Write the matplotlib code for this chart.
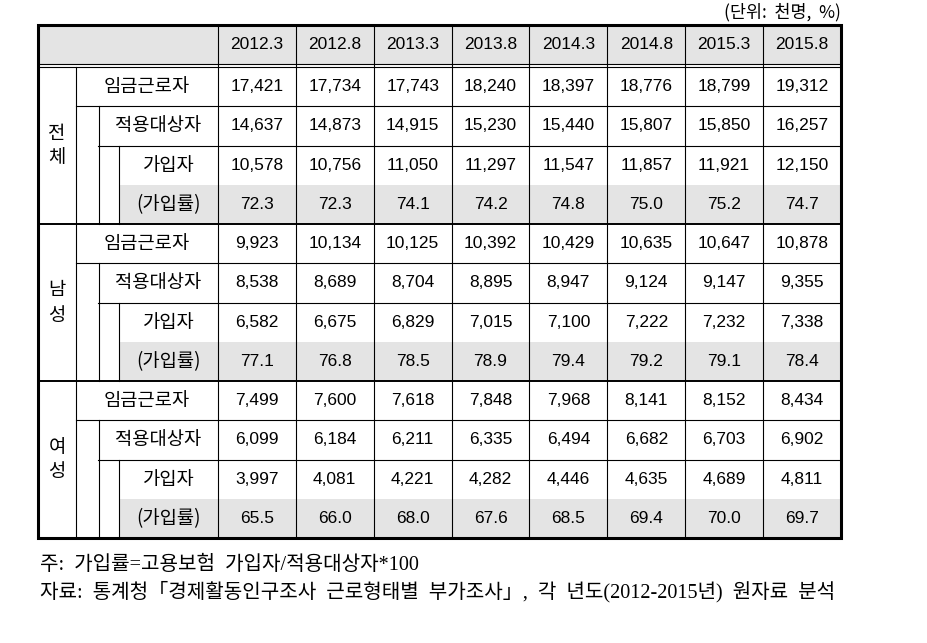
import matplotlib.pyplot as plt
from matplotlib.patches import Rectangle

plt.rcParams['font.family'] = ['Noto Sans CJK KR', 'DejaVu Sans']

years = ['2012.3', '2012.8', '2013.3', '2013.8', '2014.3', '2014.8', '2015.3', '2015.8']
groups = ['전체', '남성', '여성']
row_labels = ['임금근로자', '적용대상자', '가입자', '(가입률)']

# 전체
total_wage = [17421, 17734, 17743, 18240, 18397, 18776, 18799, 19312]
total_cover = [14637, 14873, 14915, 15230, 15440, 15807, 15850, 16257]
total_join = [10578, 10756, 11050, 11297, 11547, 11857, 11921, 12150]
total_rate = [72.3, 72.3, 74.1, 74.2, 74.8, 75.0, 75.2, 74.7]
# 남성
male_wage = [9923, 10134, 10125, 10392, 10429, 10635, 10647, 10878]
male_cover = [8538, 8689, 8704, 8895, 8947, 9124, 9147, 9355]
male_join = [6582, 6675, 6829, 7015, 7100, 7222, 7232, 7338]
male_rate = [77.1, 76.8, 78.5, 78.9, 79.4, 79.2, 79.1, 78.4]
# 여성
female_wage = [7499, 7600, 7618, 7848, 7968, 8141, 8152, 8434]
female_cover = [6099, 6184, 6211, 6335, 6494, 6682, 6703, 6902]
female_join = [3997, 4081, 4221, 4282, 4446, 4635, 4689, 4811]
female_rate = [65.5, 66.0, 68.0, 67.6, 68.5, 69.4, 70.0, 69.7]

unit_text = '(단위:  천명,  %)'
note_text = '주:  가입률=고용보험  가입자/적용대상자*100'
source_text = '자료:  통계청「경제활동인구조사  근로형태별  부가조사」,  각  년도(2012-2015년)  원자료  분석'

table = [
    [total_wage, total_cover, total_join, total_rate],
    [male_wage, male_cover, male_join, male_rate],
    [female_wage, female_cover, female_join, female_rate],
]

fig = plt.figure(figsize=(9.28, 6.43), dpi=100)
ax = fig.add_axes([0, 0, 1, 1])
ax.set_xlim(0, 928)
ax.set_ylim(643, 0)
ax.axis('off')

# layout in pixels
L, R, T, B = 38, 841, 25, 538
c1, c2, c3, c4 = 76, 99, 119, 218
head_bot = 64
data_top = 67
cw = (R - c4) / len(years)
rh = (B - data_top) / 12
gray = '#e4e4e4'
thin = 0.8
num_font = 'Liberation Sans'

# shading
ax.add_patch(Rectangle((L, T), R - L, head_bot - T, color=gray, lw=0))
for g in range(len(groups)):
    y0 = data_top + g * 4 * rh
    ax.add_patch(Rectangle((c3, y0 + 3 * rh), R - c3, rh, color=gray, lw=0))

# header
ax.plot([L, R], [head_bot, head_bot], color='k', lw=thin)
ax.plot([L, R], [data_top, data_top], color='k', lw=thin)
for i, yr in enumerate(years):
    ax.text(c4 + (i + 0.5) * cw, (T + head_bot) / 2, yr, ha='center', va='center',
            fontsize=12.5, family=num_font)

# column lines
for i in range(len(years)):
    x = c4 + i * cw
    ax.plot([x, x], [T, B], color='k', lw=thin)
ax.plot([c1, c1], [data_top, B], color='k', lw=thin)

for g, name in enumerate(groups):
    y0 = data_top + g * 4 * rh
    if g > 0:
        ax.plot([L, R], [y0, y0], color='k', lw=1.4)
    # inner structure
    ax.plot([c1, R], [y0 + rh, y0 + rh], color='k', lw=thin)
    ax.plot([c2 - 1, R], [y0 + 2 * rh, y0 + 2 * rh], color='k', lw=thin)
    ax.plot([c2, c2], [y0 + rh, y0 + 4 * rh], color='k', lw=thin)
    ax.plot([c3, c3], [y0 + 2 * rh, y0 + 4 * rh], color='k', lw=thin)
    # group name, vertical
    gy = y0 + 2 * rh
    ax.text((L + c1) / 2, gy - 12.5, name[0], ha='center', va='center', fontsize=13.5)
    ax.text((L + c1) / 2, gy + 12.5, name[1], ha='center', va='center', fontsize=13.5)
    starts = [c1, c2, c3, c3]
    for r, lab in enumerate(row_labels):
        yc = y0 + (r + 0.5) * rh
        ax.text((starts[r] + c4) / 2, yc, lab, ha='center', va='center', fontsize=13.5)
        for i, v in enumerate(table[g][r]):
            s = f'{v:.1f}' if r == 3 else f'{v:,}'
            ax.text(c4 + (i + 0.5) * cw, yc, s, ha='center', va='center',
                    fontsize=12.5, family=num_font)

# outer border
ax.add_patch(Rectangle((L, T), R - L, B - T, fill=False, ec='k', lw=2.2))

ax.text(R, 12, unit_text, ha='right', va='center', fontsize=12.5)
ax.text(40, 565, note_text, ha='left', va='center', fontsize=14.5,
        family=['Liberation Serif', 'Noto Sans CJK KR'])
ax.text(40, 592, source_text, ha='left', va='center', fontsize=14.5,
        family=['Liberation Serif', 'Noto Sans CJK KR'])

fig.savefig('out.png', dpi=100)
